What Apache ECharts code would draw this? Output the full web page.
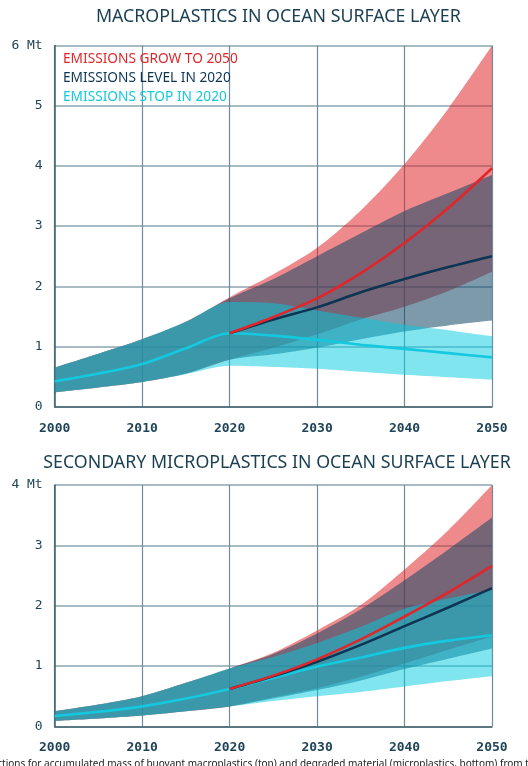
<!DOCTYPE html>
<html><head><meta charset="utf-8">
<script src="https://cdn.jsdelivr.net/npm/echarts@6/dist/echarts.min.js"></script>
<style>html,body{margin:0;padding:0;background:#fff;}#c{width:528px;height:766px;}</style>
</head><body><div id="c"></div>
<script>
// ---- data ----
const years = ['2000','2005','2010','2015','2020','2025','2030','2035','2040','2045','2050'];
const postStart = 4; // index of 2020, where the scenarios split

const macroGrowLow  = [0.24,0.32,0.41,0.55,0.78,0.98,1.20,1.45,1.66,1.92,2.24];
const macroGrowHigh = [0.65,0.88,1.12,1.41,1.82,2.20,2.64,3.26,4.03,4.95,6.00];
const macroGrowMid  = [1.22,1.49,1.80,2.22,2.72,3.30,3.96];          // 2020-2050
const macroLevelLow  = [0.24,0.32,0.41,0.55,0.78,0.87,0.98,1.12,1.25,1.35,1.43];
const macroLevelHigh = [0.65,0.88,1.12,1.41,1.80,2.12,2.50,2.88,3.25,3.55,3.85];
const macroLevelMid  = [1.22,1.45,1.65,1.90,2.12,2.32,2.50];         // 2020-2050
const macroStopLow  = [0.24,0.32,0.41,0.54,0.68,0.66,0.63,0.58,0.53,0.49,0.45];
const macroStopHigh = [0.65,0.88,1.12,1.41,1.74,1.72,1.60,1.48,1.36,1.27,1.17];
const macroStopMid  = [0.42,0.55,0.71,0.97,1.22,1.18,1.11,1.03,0.96,0.89,0.82];

const microGrowLow  = [0.09,0.13,0.18,0.25,0.33,0.48,0.63,0.82,1.04,1.27,1.49];
const microGrowHigh = [0.25,0.36,0.50,0.72,0.96,1.22,1.59,2.01,2.60,3.25,4.00];
const microGrowMid  = [0.62,0.84,1.11,1.44,1.82,2.22,2.66];          // 2020-2050
const microLevelLow  = [0.09,0.13,0.18,0.25,0.33,0.46,0.60,0.76,0.95,1.12,1.29];
const microLevelHigh = [0.25,0.36,0.50,0.72,0.96,1.20,1.54,1.94,2.42,2.93,3.46];
const microLevelMid  = [0.62,0.83,1.07,1.35,1.66,1.97,2.29];         // 2020-2050
const microStopLow  = [0.09,0.13,0.18,0.25,0.33,0.42,0.50,0.57,0.66,0.75,0.83];
const microStopHigh = [0.25,0.36,0.50,0.72,0.96,1.15,1.38,1.65,1.95,2.12,2.26];
const microStopMid  = [0.17,0.24,0.33,0.46,0.62,0.80,0.99,1.14,1.30,1.42,1.51];

const titles = ['MACROPLASTICS IN OCEAN SURFACE LAYER','SECONDARY MICROPLASTICS IN OCEAN SURFACE LAYER'];
const scenarios = ['EMISSIONS GROW TO 2050','EMISSIONS LEVEL IN 2020','EMISSIONS STOP IN 2020'];
const yMax = [6, 4];
const yUnit = 'Mt';
const caption = 'Projections for accumulated mass of buoyant macroplastics (top) and degraded material (microplastics, bottom) from the three scenarios.';

// ---- styles ----
const lineColors = ['#e0262b','#0d3553','#14c9df'];
const bandColors = ['rgba(223,34,38,0.53)','rgba(19,71,102,0.55)','rgba(1,203,223,0.5)'];
const navyText = '#1b3f52';
const mono = '"DejaVu Sans Mono", "Liberation Mono", monospace';
const sans = '"Noto Sans", Lato, sans-serif';
const SMOOTH = 0.3;

const padPost = arr => new Array(postStart).fill('-').concat(arr);

function bandSeries(idx, low, high, color, key) {
  const stack = 'band' + idx + '_' + key;
  return [
    {type:'line', name:'lower ' + stack, xAxisIndex:idx, yAxisIndex:idx, stack, data:low.slice(),
     symbol:'none', smooth:SMOOTH, lineStyle:{opacity:0}, silent:true},
    {type:'line', name:'upper ' + stack, xAxisIndex:idx, yAxisIndex:idx, stack,
     data:high.map((h,i)=>+(h-low[i]).toFixed(3)),
     symbol:'none', smooth:SMOOTH, lineStyle:{opacity:0}, areaStyle:{color, opacity:1}, silent:true}
  ];
}
function lineSeries(idx, name, ys, color) {
  return {type:'line', name, xAxisIndex:idx, yAxisIndex:idx, data:ys,
    symbol:'none', smooth:SMOOTH, lineStyle:{width:2.6, color}, itemStyle:{color}, silent:true};
}

const sets = [
  {grow:[macroGrowLow,macroGrowHigh,macroGrowMid], level:[macroLevelLow,macroLevelHigh,macroLevelMid], stop:[macroStopLow,macroStopHigh,macroStopMid]},
  {grow:[microGrowLow,microGrowHigh,microGrowMid], level:[microLevelLow,microLevelHigh,microLevelMid], stop:[microStopLow,microStopHigh,microStopMid]}
];

let series = [];
sets.forEach((s, idx) => {
  series = series.concat(bandSeries(idx, s.grow[0], s.grow[1], bandColors[0], 'g'));
  series = series.concat(bandSeries(idx, s.level[0], s.level[1], bandColors[1], 'l'));
  series = series.concat(bandSeries(idx, s.stop[0], s.stop[1], bandColors[2], 's'));
  series.push(lineSeries(idx, scenarios[2], s.stop[2], lineColors[2]));
  series.push(lineSeries(idx, scenarios[1], padPost(s.level[2]), lineColors[1]));
  series.push(lineSeries(idx, scenarios[0], padPost(s.grow[2]), lineColors[0]));
});

const grids = [
  {left:54.7, right:36, top:45.5, height:361.2},
  {left:54.7, right:36, top:485, height:241.3}
];

function xAxis(idx){
  return {type:'category', gridIndex:idx, data:years, boundaryGap:false,
    axisLine:{show:true, lineStyle:{color:'#41606f', width:1.5}},
    axisTick:{show:false},
    axisLabel:{interval:1, color:'#1f4457', fontFamily:mono, fontSize:13, fontWeight:'bold', margin:15},
    splitLine:{show:true, interval:1, lineStyle:{color:'#6f8c9b', width:1.2}}};
}
function yAxis(idx){
  return {type:'value', gridIndex:idx, min:0, max:yMax[idx], interval:1,
    axisLine:{show:true, lineStyle:{color:'#41606f', width:1.5}},
    axisTick:{show:false},
    axisLabel:{color:'#1f4457', fontFamily:mono, fontSize:13, margin:12,
      formatter:v=> v===yMax[idx] ? v + ' ' + yUnit : String(v)},
    splitLine:{show:true, lineStyle:{color:'#a9bcc6', width:2}}};
}

const chart = echarts.init(document.getElementById('c'), null, {renderer:'canvas'});
chart.setOption({
  animation:false,
  backgroundColor:'#fff',
  title:[
    {text:titles[0], left:273.3, top:3, textAlign:'center', textStyle:{color:navyText, fontFamily:sans, fontSize:17.8, fontWeight:'normal'}},
    {text:titles[1], left:272, top:449, textAlign:'center', textStyle:{color:navyText, fontFamily:sans, fontSize:17.8, fontWeight:'normal'}}
  ],
  legend:{
    show:true, orient:'vertical', left:53, top:47, itemGap:5.2, itemWidth:0, itemHeight:14,
    icon:'none', selectedMode:false,
    textStyle:{fontFamily:sans, fontSize:13.7},
    data:scenarios.map((n,i)=>({name:n, icon:'none', textStyle:{color:lineColors[i]}}))
  },
  grid:grids,
  xAxis:[xAxis(0), xAxis(1)],
  yAxis:[yAxis(0), yAxis(1)],
  series,
  graphic:[{type:'text', left:-27, top:759, silent:true,
    style:{text:caption, fill:'#222', font:'10px "Noto Sans", sans-serif'}}]
});
</script></body></html>
